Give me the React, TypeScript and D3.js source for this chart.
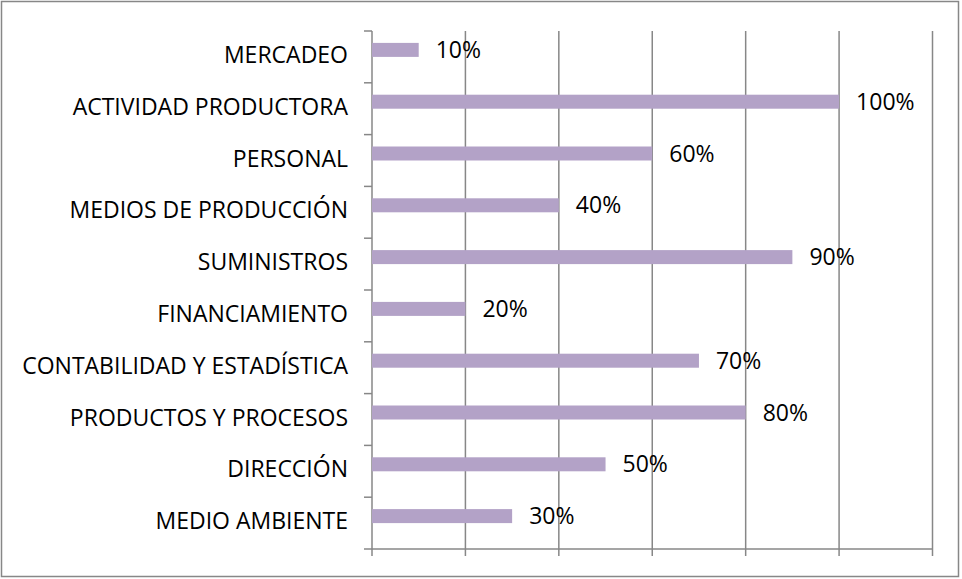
import React from "react";
import * as d3 from "d3";

const categories = [
  "MERCADEO",
  "ACTIVIDAD PRODUCTORA",
  "PERSONAL",
  "MEDIOS DE PRODUCCIÓN",
  "SUMINISTROS",
  "FINANCIAMIENTO",
  "CONTABILIDAD Y ESTADÍSTICA",
  "PRODUCTOS Y PROCESOS",
  "DIRECCIÓN",
  "MEDIO AMBIENTE",
];
const values = [10, 100, 60, 40, 90, 20, 70, 80, 50, 30];
const xTicks = [0, 20, 40, 60, 80, 100, 120];
const seriesKeys = ["Serie1", "Serie2"];

const W = 962;
const H = 579;
const FONT = "'Open Sans', 'Liberation Sans', sans-serif";
const GRID = "#878787";
const BAR = "#B3A2C7";

export default function App() {
  const left = 372;
  const right = 932.5;
  const top = 31;
  const bottom = 549;

  const x = d3.scaleLinear().domain([0, 120]).range([left, right]);
  const y = d3.scaleBand<string>().domain(categories).range([top, bottom]).paddingInner(0).paddingOuter(0);
  const inner = d3
    .scaleBand<string>()
    .domain(seriesKeys)
    .range([0, y.step()])
    .paddingInner(0)
    .paddingOuter(0.85);

  const boundaries = d3.range(categories.length + 1).map((i) => top + i * y.step());

  return (
    <svg
      width={W}
      height={H}
      style={{ position: "absolute", left: 0, top: 0, background: "#fff" }}
      fontFamily={FONT}
    >
      <rect x={1.5} y={1.5} width={957} height={575} fill="#fff" stroke={GRID} strokeWidth={1.5} />

      {/* vertical gridlines + x ticks */}
      {xTicks.map((t) => (
        <line
          key={"g" + t}
          x1={x(t)}
          x2={x(t)}
          y1={top}
          y2={bottom + 7}
          stroke={GRID}
          strokeWidth={1.5}
        />
      ))}

      {/* x axis line */}
      <line x1={left} x2={right} y1={bottom} y2={bottom} stroke={GRID} strokeWidth={1.5} />

      {/* y ticks */}
      {boundaries.map((b, i) => (
        <line key={"yt" + i} x1={left - 8} x2={left} y1={b} y2={b} stroke={GRID} strokeWidth={1.5} />
      ))}

      {/* bars */}
      {categories.map((c, i) => {
        const by = (y(c) as number) + (inner("Serie1") as number);
        const bh = inner.bandwidth();
        return (
          <g key={"b" + c}>
            <rect x={x(0)} y={by} width={x(values[i]) - x(0)} height={bh} fill={BAR} />
            <text
              x={x(values[i]) + 17}
              y={by + bh / 2 + 2}
              dominantBaseline="middle"
              fontSize={23}
              fill="#000"
            >
              {values[i] + "%"}
            </text>
          </g>
        );
      })}

      {/* category labels */}
      {categories.map((c) => (
        <text
          key={"l" + c}
          x={348}
          y={(y(c) as number) + y.bandwidth() / 2}
          textAnchor="end"
          dominantBaseline="middle"
          fontSize={23}
          fill="#000"
        >
          {c}
        </text>
      ))}
    </svg>
  );
}
